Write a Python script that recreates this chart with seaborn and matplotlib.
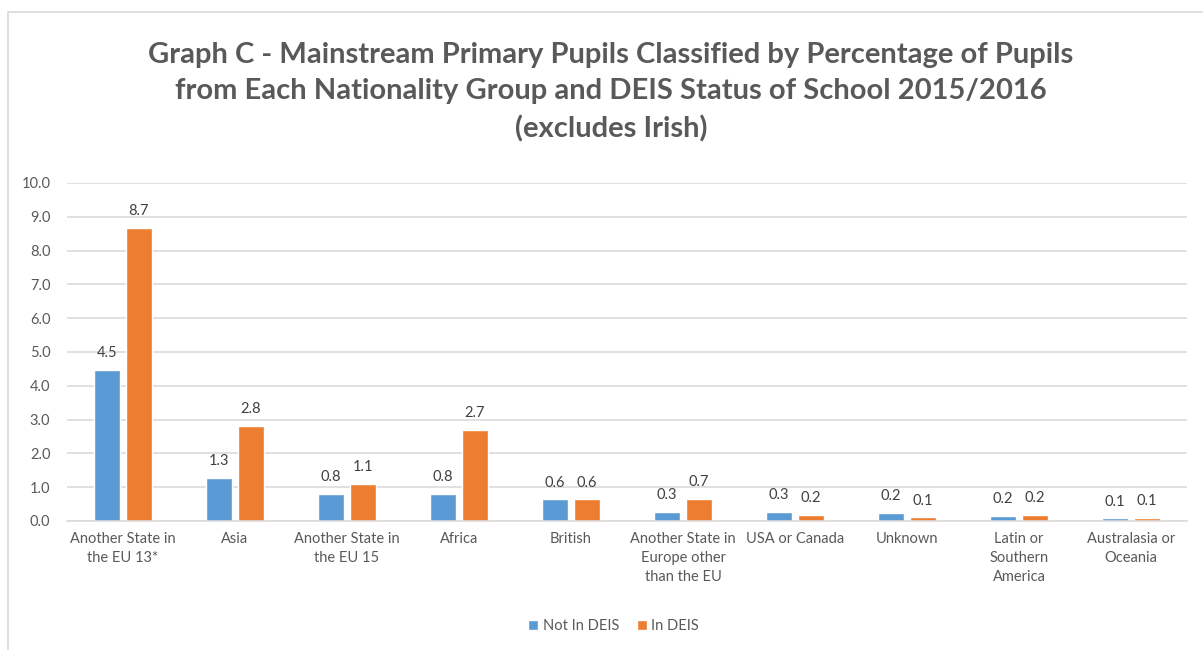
import matplotlib
matplotlib.use("Agg")
import matplotlib.pyplot as plt
import seaborn as sns
import pandas as pd
from matplotlib.patches import Rectangle

categories = ["Another State in\nthe EU 13*", "Asia", "Another State in\nthe EU 15", "Africa",
              "British", "Another State in\nEurope other\nthan the EU", "USA or Canada", "Unknown",
              "Latin or\nSouthern\nAmerica", "Australasia or\nOceania"]
not_in_deis = [4.48, 1.27, 0.81, 0.80, 0.64, 0.28, 0.26, 0.23, 0.16, 0.08]
in_deis = [8.67, 2.81, 1.10, 2.70, 0.64, 0.65, 0.18, 0.11, 0.19, 0.09]
series = ["Not In DEIS", "In DEIS"]
y_ticks = [0, 1, 2, 3, 4, 5, 6, 7, 8, 9, 10]

df = pd.DataFrame({
    "category": categories * 2,
    "value": not_in_deis + in_deis,
    "series": [series[0]] * len(categories) + [series[1]] * len(categories),
})

sns.set_theme(style="white")
plt.rcParams['font.family'] = ['Lato', 'DejaVu Sans']

fig = plt.figure(figsize=(12.03, 6.5), dpi=100)
ax = fig.add_axes([0.0557, 0.1985, 0.9310, 0.5200])

sns.barplot(data=df, x="category", y="value", hue="series", order=categories,
            hue_order=series, palette=["#5B9BD5", "#ED7D31"], saturation=1,
            width=0.57, gap=0.2, ax=ax, legend=True)

ax.set_ylim(0, 10)
ax.set_xlim(-0.5, len(categories) - 0.5)
ax.set_yticks(y_ticks)
ax.set_yticklabels([f"{v:.1f}" for v in y_ticks])
ax.yaxis.grid(True, color="#D9D9D9", linewidth=1.1)
ax.set_axisbelow(True)
for s in ["top", "right", "left"]:
    ax.spines[s].set_visible(False)
ax.spines["bottom"].set_color("#D9D9D9")
ax.spines["bottom"].set_linewidth(1.1)
ax.set_xlabel("")
ax.set_ylabel("")
ax.tick_params(axis="both", length=0, labelsize=10.5, labelcolor="#595959")
ax.tick_params(axis="y", pad=12)
ax.tick_params(axis="x", pad=8)
for t in ax.get_xticklabels():
    t.set_linespacing(1.45)

for cont in ax.containers:
    labels = [f"{b.get_height():.1f}" for b in cont]
    ax.bar_label(cont, labels=labels, padding=7, fontsize=10.5, color="#404040")

handles, labs = ax.get_legend_handles_labels()
ax.get_legend().remove()
fig.legend(handles, labs, loc="center", bbox_to_anchor=(0.51, 0.037), ncol=2, frameon=False,
           fontsize=10.5, labelcolor="#595959", handlelength=0.7, handleheight=0.7,
           handletextpad=0.3, columnspacing=1.2)

fig.text(0.508, 0.858,
         "Graph C - Mainstream Primary Pupils Classified by Percentage of Pupils\n"
         "from Each Nationality Group and DEIS Status of School 2015/2016\n(excludes Irish)",
         ha="center", va="center", fontsize=21, fontweight="bold", color="#595959",
         linespacing=1.5)

fig.patches.append(Rectangle((8 / 1203, -0.01), 1.1, 1 - 12 / 650 + 0.01, transform=fig.transFigure,
                             fill=False, edgecolor="#D9D9D9", linewidth=1.2))

fig.savefig("out.png", dpi=100)
